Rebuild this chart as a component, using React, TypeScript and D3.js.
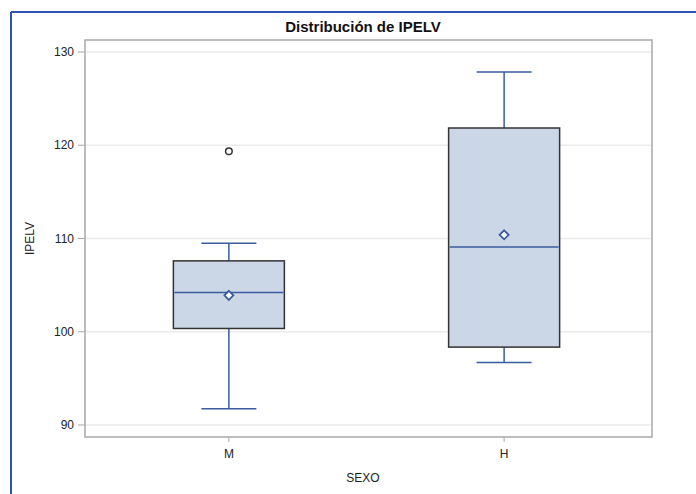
import React from "react";
import * as d3 from "d3";

const categories = ["M", "H"];
const q1Values = [100.35, 98.35];
const medianValues = [104.2, 109.1];
const q3Values = [107.6, 121.85];
const whiskerLow = [91.75, 96.7];
const whiskerHigh = [109.5, 127.85];
const meanValues = [103.9, 110.4];
const outlierCats = ["M"];
const outlierValues = [119.35];
const yTicks = [90, 100, 110, 120, 130];

const title = "Distribución de IPELV";
const xTitle = "SEXO";
const yTitle = "IPELV";

export default function App() {
  const W = 696, H = 494;
  const left = 85, right = 652, top = 40, bottom = 437;
  const y = d3.scaleLinear().domain([88.71, 131.29]).range([bottom, top]);
  const x = d3.scalePoint<string>().domain(categories).range([left - 2, right - 2]).padding(0.53);
  const boxW = 111;
  const capW = 55;
  const font = "'Liberation Sans', Arial, sans-serif";
  const blue = "#3A5C9E";
  const cx = 363;

  return (
    <svg width={W} height={H} style={{ position: "absolute", left: 0, top: 0, background: "#fff" }} fontFamily={font}>
      <rect x={0} y={0} width={W} height={H} fill="#fff" />
      {/* frame */}
      <line x1={11} x2={W} y1={12} y2={12} stroke="#2F52B0" strokeWidth={2} />
      <line x1={11} x2={11} y1={12} y2={H} stroke="#2F52B0" strokeWidth={2} />
      <text x={cx} y={32} textAnchor="middle" fontSize={15} fontWeight="bold" fill="#111">{title}</text>
      {/* grid */}
      {yTicks.map((t) => (
        <line key={"g" + t} x1={left} x2={right} y1={y(t)} y2={y(t)} stroke="#EBEBEB" strokeWidth={1.5} />
      ))}
      {/* boxes */}
      {categories.map((c, i) => {
        const xc = x(c)!;
        return (
          <g key={c}>
            <line x1={xc} x2={xc} y1={y(whiskerHigh[i])} y2={y(q3Values[i])} stroke={blue} strokeWidth={1.5} />
            <line x1={xc} x2={xc} y1={y(q1Values[i])} y2={y(whiskerLow[i])} stroke={blue} strokeWidth={1.5} />
            <line x1={xc - capW / 2} x2={xc + capW / 2} y1={y(whiskerHigh[i])} y2={y(whiskerHigh[i])} stroke={blue} strokeWidth={1.5} />
            <line x1={xc - capW / 2} x2={xc + capW / 2} y1={y(whiskerLow[i])} y2={y(whiskerLow[i])} stroke={blue} strokeWidth={1.5} />
            <rect x={xc - boxW / 2} y={y(q3Values[i])} width={boxW} height={y(q1Values[i]) - y(q3Values[i])} fill="#CBD7E7" stroke="#333" strokeWidth={1.5} />
            <line x1={xc - boxW / 2 + 1} x2={xc + boxW / 2 - 1} y1={y(medianValues[i])} y2={y(medianValues[i])} stroke={blue} strokeWidth={1.5} />
            <path d={`M${xc},${y(meanValues[i]) - 4.5}L${xc + 4.5},${y(meanValues[i])}L${xc},${y(meanValues[i]) + 4.5}L${xc - 4.5},${y(meanValues[i])}Z`} fill="#fff" stroke={blue} strokeWidth={1.8} />
          </g>
        );
      })}
      {outlierValues.map((v, i) => (
        <circle key={"o" + i} cx={x(outlierCats[i])!} cy={y(v)} r={3.3} fill="#fff" stroke="#333" strokeWidth={1.5} />
      ))}
      {/* axes frame */}
      <rect x={left} y={top} width={right - left} height={bottom - top} fill="none" stroke="#A8A8A8" strokeWidth={1.5} />
      {yTicks.map((t) => (
        <g key={"t" + t}>
          <line x1={left - 7} x2={left} y1={y(t)} y2={y(t)} stroke="#A8A8A8" strokeWidth={1} />
          <text x={left - 11} y={y(t)} dy="0.35em" textAnchor="end" fontSize={12} fill="#222">{t}</text>
        </g>
      ))}
      {categories.map((c) => (
        <g key={"x" + c}>
          <line x1={x(c)!} x2={x(c)!} y1={bottom} y2={bottom + 5} stroke="#A8A8A8" strokeWidth={1} />
          <text x={x(c)!} y={bottom + 17} dy="0.35em" textAnchor="middle" fontSize={12} fill="#222">{c}</text>
        </g>
      ))}
      <text x={cx} y={478} dy="0.35em" textAnchor="middle" fontSize={12} fill="#222">{xTitle}</text>
      <text transform={`translate(30,${(top + bottom) / 2}) rotate(-90)`} textAnchor="middle" dy="0.35em" fontSize={12} fill="#222">{yTitle}</text>
    </svg>
  );
}
